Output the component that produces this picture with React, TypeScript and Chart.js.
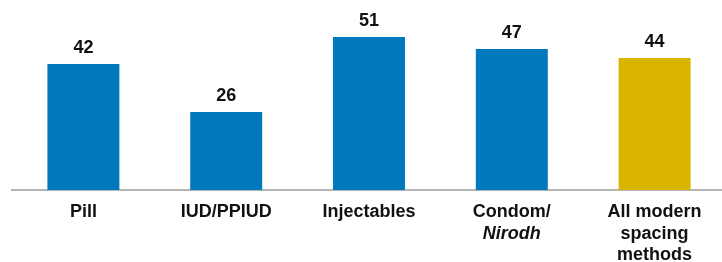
import React, { useEffect, useRef } from "react";
import { Chart, registerables } from "chart.js";

Chart.register(...registerables);

const categories = ["Pill", "IUD/PPIUD", "Injectables", "Condom/Nirodh", "All modern spacing methods"];
const tickLines = [["Pill"], ["IUD/PPIUD"], ["Injectables"], ["Condom/", "Nirodh"], ["All modern", "spacing", "methods"]];
const italicLines = [[], [], [], [1], []];
const values = [42, 26, 51, 47, 44];
const barColors = ["#0078be", "#0078be", "#0078be", "#0078be", "#d9b400"];
const yMin = 0;
const yMax = 60;

const FONT_FAMILY = '"Liberation Sans", Arial, sans-serif';

const labelPlugin = {
  id: "customLabels",
  afterDatasetsDraw(chart: any) {
    const ctx = chart.ctx;
    const meta = chart.getDatasetMeta(0);
    ctx.save();
    ctx.fillStyle = "#111111";
    ctx.font = `bold 18px ${FONT_FAMILY}`;
    ctx.textAlign = "center";
    ctx.textBaseline = "alphabetic";
    meta.data.forEach((bar: any, i: number) => {
      ctx.fillText(String(values[i]), bar.x, bar.y - 11);
    });
    ctx.restore();
  },
  afterDraw(chart: any) {
    const ctx = chart.ctx;
    const xScale = chart.scales.x;
    const base = chart.chartArea.bottom;
    ctx.save();
    ctx.fillStyle = "#111111";
    ctx.textAlign = "center";
    ctx.textBaseline = "middle";
    tickLines.forEach((lines, i) => {
      const x = xScale.getPixelForValue(i);
      lines.forEach((line, j) => {
        const italic = italicLines[i].includes(j);
        ctx.font = `${italic ? "italic " : ""}bold 18px ${FONT_FAMILY}`;
        ctx.fillText(line, x, base + 22 + j * 21.7);
      });
    });
    ctx.restore();
  },
};

export default function App() {
  const canvasRef = useRef<HTMLCanvasElement | null>(null);

  useEffect(() => {
    document.body.style.margin = "0";
    document.documentElement.style.overflow = "hidden";
    const canvas = canvasRef.current;
    if (!canvas) return;
    const chart = new Chart(canvas, {
      type: "bar",
      data: {
        labels: categories,
        datasets: [
          {
            data: values,
            backgroundColor: barColors,
            borderWidth: 0,
            categoryPercentage: 1,
            barPercentage: 0.504,
          },
        ],
      },
      options: {
        responsive: false,
        animation: false,
        devicePixelRatio: 1,
        layout: { padding: { left: 12, right: 4, top: 10, bottom: 72 } },
        plugins: {
          legend: { display: false },
          tooltip: { enabled: false },
        },
        scales: {
          x: {
            grid: { display: false, drawTicks: false },
            border: { display: true, color: "#b5b5b5", width: 2 },
            ticks: { display: false },
          },
          y: {
            display: false,
            min: yMin,
            max: yMax,
          },
        },
      },
      plugins: [labelPlugin],
    });
    return () => chart.destroy();
  }, []);

  return (
    <div style={{ width: 722, height: 262, overflow: "hidden", background: "#ffffff" }}>
      <canvas ref={canvasRef} width={730} height={262} style={{ display: "block", width: 730, height: 262 }} />
    </div>
  );
}
